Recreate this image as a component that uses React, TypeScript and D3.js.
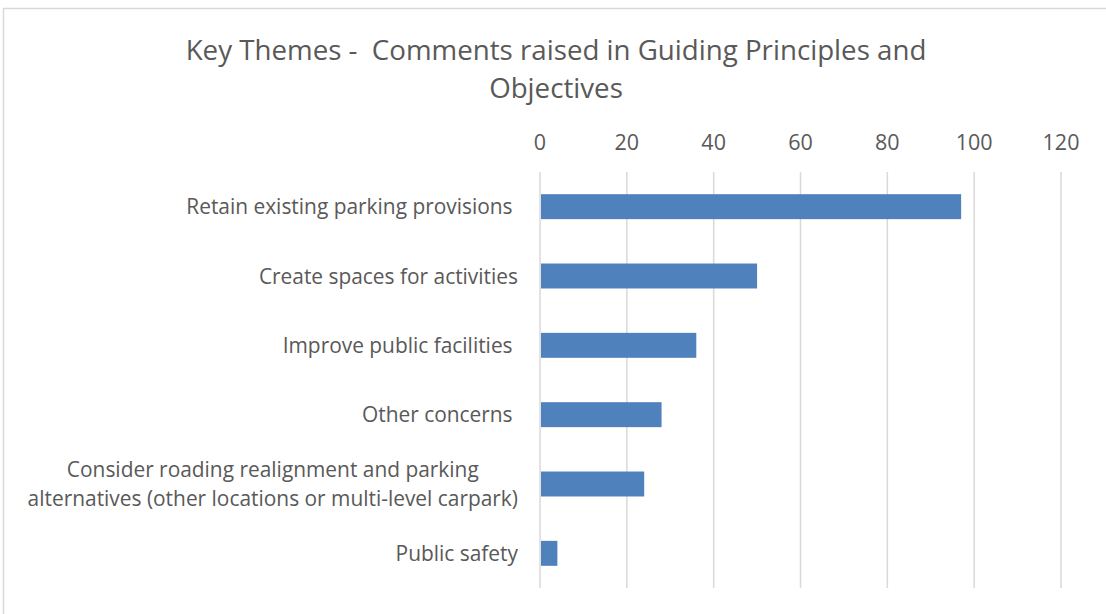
import React from "react";
import * as d3 from "d3";

const categories = [
  "Retain existing parking provisions ",
  "Create spaces for activities",
  "Improve public facilities ",
  "Other concerns ",
  "Consider roading realignment and parking|alternatives (other locations or multi-level carpark)",
  "Public safety",
];
const values = [97, 50, 36, 28, 24, 4];
const xTicks = [0, 20, 40, 60, 80, 100, 120];
const titleLines = ["Key Themes -  Comments raised in Guiding Principles and", "Objectives"];

const W = 1106;
const H = 614;
const FONT = "'Open Sans', 'Noto Sans', sans-serif";
const TEXT = "#595959";
const GRID = "#d9d9d9";
const BAR = "#4f81bd";
const LABEL_FS = 20.9;

function measure(text: string, fs: number): number {
  if (typeof document === "undefined") return text.length * fs * 0.5;
  const c = document.createElement("canvas").getContext("2d");
  if (!c) return text.length * fs * 0.5;
  c.font = `${fs}px 'Open Sans'`;
  return c.measureText(text).width;
}

export default function App() {
  const x = d3.scaleLinear().domain([0, 120]).range([540, 1061]);
  const y = d3
    .scaleBand<string>()
    .domain(categories)
    .range([172, 588])
    .paddingInner(0.64)
    .paddingOuter(0.32);

  const labelRight = 518;

  return (
    <svg
      width={W}
      height={H}
      style={{ position: "absolute", left: 0, top: 0, background: "#fff" }}
      fontFamily={FONT}
    >
      <rect x={3.5} y={8.5} width={W + 10} height={H + 10} fill="#fff" stroke={GRID} strokeWidth={1.5} />
      {titleLines.map((t, i) => (
        <text
          key={i}
          x={556}
          y={60 + i * 38}
          textAnchor="middle"
          fontSize={27.7}
          fill={TEXT}
          style={{ whiteSpace: "pre" }}
        >
          {t}
        </text>
      ))}
      {xTicks.map((t) => (
        <g key={t}>
          <line x1={x(t)} x2={x(t)} y1={172} y2={588} stroke={GRID} strokeWidth={1.5} />
          <text x={x(t)} y={150} textAnchor="middle" fontSize={21.5} fill={TEXT}>
            {t}
          </text>
        </g>
      ))}
      {categories.map((c, i) => {
        const lines = c.split("|");
        const cy = (y(c) as number) + y.bandwidth() / 2;
        const lh = 29;
        const multi = lines.length > 1;
        const maxW = multi ? Math.max(...lines.map((l) => measure(l, LABEL_FS))) : 0;
        return (
          <g key={c}>
            <rect
              x={x(0) + 1}
              y={y(c)}
              width={x(values[i]) - x(0) - 1}
              height={y.bandwidth()}
              fill={BAR}
            />
            {lines.map((l, j) => (
              <text
                key={j}
                x={multi ? labelRight - maxW / 2 : labelRight}
                y={cy + (j - (lines.length - 1) / 2) * lh + 7.5}
                textAnchor={multi ? "middle" : "end"}
                fontSize={LABEL_FS}
                fill={TEXT}
                style={{ whiteSpace: "pre" }}
              >
                {l}
              </text>
            ))}
          </g>
        );
      })}
    </svg>
  );
}
